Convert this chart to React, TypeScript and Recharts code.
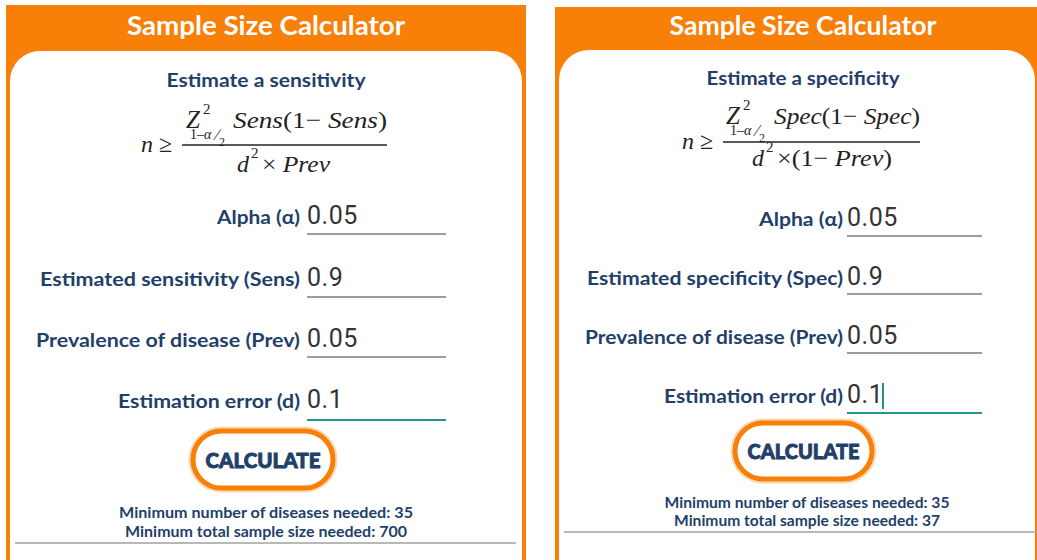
import React from 'react';
import { Surface, Layer, Rectangle } from 'recharts';

// text content of the two calculator panels
const headerTitles = ['Sample Size Calculator', 'Sample Size Calculator'];
const estimateTitles = ['Estimate a sensitivity', 'Estimate a specificity'];
const sensLabels = ['Alpha (\u03b1)', 'Estimated sensitivity (Sens)', 'Prevalence of disease (Prev)', 'Estimation error (d)'];
const specLabels = ['Alpha (\u03b1)', 'Estimated specificity (Spec)', 'Prevalence of disease (Prev)', 'Estimation error (d)'];
const sensValues = ['0.05', '0.9', '0.05', '0.1'];
const specValues = ['0.05', '0.9', '0.05', '0.1'];
const sensResults = ['Minimum number of diseases needed: 35', 'Minimum total sample size needed: 700'];
const specResults = ['Minimum number of diseases needed: 35', 'Minimum total sample size needed: 37'];
const formulaTerms = ['Sens', 'Spec'];
const denomPrefix = ['\u00d7 ', '\u00d7(1\u2212 '];
const denomSuffix = ['', ')'];
const buttonText = 'CALCULATE';

const ORANGE = '#f98008';
const NAVY = '#223f69';
const INK = '#222';
const SANS = 'Lato, "Open Sans", sans-serif';
const SERIF = '"Liberation Serif", "DejaVu Serif", serif';

const panels = [
  {
    ox: 6, ow: 520, top: 5,
    card: { x: 10, y: 51, w: 512 },
    cx: 266, titleY: 35, titleW: 278, subY: 87, subW: 199,
    labelEnd: 300, valueX: 307, lineEnd: 446,
    rowBase: [224, 286, 347, 408], rowLine: [234, 297, 357, 420],
    labelW: [83, 260, 264, 182],
    btn: { x: 193, y: 431, w: 140, h: 57 }, btnTextY: 468, btnTextW: 115,
    resCx: 266, resY: [518, 537], resW: [294, 282],
    sepY: 543, sepX: [15, 516],
    labels: sensLabels, values: sensValues, results: sensResults,
    cursor: false,
    f: { nX: 141, nY: 152, lx: [182, 387], ly: 145, zX: 186, zY: 128, numX: 233, numW: 154, denX: 237, denY: 172, denW: 68 },
  },
  {
    ox: 555, ow: 490, top: 7,
    card: { x: 559, y: 50, w: 476 },
    cx: 803, titleY: 35, titleW: 267, subY: 85, subW: 193,
    labelEnd: 843, valueX: 847, lineEnd: 982,
    rowBase: [226, 285, 344, 403], rowLine: [236, 294, 353, 413],
    labelW: [84, 256, 258, 179],
    btn: { x: 735, y: 423, w: 137, h: 56 }, btnTextY: 459, btnTextW: 112,
    resCx: 807, resY: [508, 526], resW: [285, 266],
    sepY: 532, sepX: [564, 1040],
    labels: specLabels, values: specValues, results: specResults,
    cursor: true,
    f: { nX: 682, nY: 149, lx: [723, 920], ly: 142, zX: 726, zY: 124, numX: 774, numW: 146, denX: 752, denY: 166, denW: 115 },
  },
];

function Formula({ i }: { i: number }) {
  const f = panels[i].f;
  const term = formulaTerms[i];
  return (
    <Layer>
      <text x={f.nX} y={f.nY} fontFamily={SERIF} fontSize={24} fill={INK}>
        <tspan fontStyle="italic">n</tspan> {'\u2265'}
      </text>
      <line x1={f.lx[0]} x2={f.lx[1]} y1={f.ly} y2={f.ly} stroke={INK} strokeWidth={1.3} />
      {/* Z^2 with the 1-alpha/2 subscript */}
      <text x={f.zX} y={f.zY} fontFamily={SERIF} fontSize={25} fontStyle="italic" fill={INK}>Z</text>
      <text x={f.zX + 17} y={f.zY - 14} fontFamily={SERIF} fontSize={15} fill={INK}>2</text>
      <text x={f.zX + 4} y={f.zY + 11} fontFamily={SERIF} fontSize={14} fill={INK}>
        1{'\u2013'}<tspan fontStyle="italic">{'\u03b1'}</tspan>
      </text>
      <text x={f.zX + 30} y={f.zY + 12} fontFamily={SERIF} fontSize={16} fill={INK}>{'\u2044'}</text>
      <text x={f.zX + 33} y={f.zY + 18} fontFamily={SERIF} fontSize={12} fill={INK}>2</text>
      <text x={f.numX} y={f.zY} fontFamily={SERIF} fontSize={24} fill={INK} textLength={f.numW} lengthAdjust="spacingAndGlyphs">
        <tspan fontStyle="italic">{term}</tspan>(1{'\u2212'} <tspan fontStyle="italic">{term}</tspan>)
      </text>
      {/* denominator */}
      <text x={f.denX} y={f.denY} fontFamily={SERIF} fontSize={24} fontStyle="italic" fill={INK}>d</text>
      <text x={f.denX + 14} y={f.denY - 14} fontFamily={SERIF} fontSize={15} fill={INK}>2</text>
      <text x={f.denX + 25} y={f.denY} fontFamily={SERIF} fontSize={24} fill={INK} textLength={f.denW} lengthAdjust="spacingAndGlyphs">
        {denomPrefix[i]}<tspan fontStyle="italic">Prev</tspan>{denomSuffix[i]}
      </text>
    </Layer>
  );
}

function Panel({ i }: { i: number }) {
  const p = panels[i];
  return (
    <Layer>
      <Rectangle x={p.ox} y={p.top} width={p.ow} height={560 - p.top} fill={ORANGE} />
      <Rectangle x={p.card.x} y={p.card.y} width={p.card.w} height={560 - p.card.y} radius={[30, 30, 0, 0]} fill="#fff" />
      <text x={p.cx} y={p.titleY} textAnchor="middle" fontFamily={SANS} fontWeight={700} fontSize={26} fill="#fff"
        textLength={p.titleW} lengthAdjust="spacingAndGlyphs">{headerTitles[i]}</text>
      <text x={p.cx} y={p.subY} textAnchor="middle" fontFamily={SANS} fontWeight={700} fontSize={19} fill={NAVY}
        textLength={p.subW} lengthAdjust="spacingAndGlyphs">{estimateTitles[i]}</text>
      <Formula i={i} />
      {p.labels.map((lab, r) => (
        <Layer key={r}>
          <text x={p.labelEnd} y={p.rowBase[r]} textAnchor="end" fontFamily={SANS} fontWeight={700} fontSize={19} fill={NAVY}
            textLength={p.labelW[r]} lengthAdjust="spacingAndGlyphs">{lab}</text>
          <text x={p.valueX} y={p.rowBase[r]} fontFamily="Roboto, sans-serif" fontSize={25} fill="#333" letterSpacing={0.5}>{p.values[r]}</text>
          <line x1={p.valueX} x2={p.lineEnd} y1={p.rowLine[r]} y2={p.rowLine[r]}
            stroke={r === 3 ? '#23968a' : '#9c9c9c'} strokeWidth={2} />
        </Layer>
      ))}
      {p.cursor && (
        <line x1={p.valueX + 36} x2={p.valueX + 36} y1={p.rowBase[3] - 20} y2={p.rowBase[3] + 6} stroke="#23968a" strokeWidth={2} />
      )}
      <Rectangle x={p.btn.x} y={p.btn.y} width={p.btn.w} height={p.btn.h} radius={p.btn.h / 2}
        fill="#fff" stroke="#fcd9b3" strokeWidth={9} />
      <Rectangle x={p.btn.x} y={p.btn.y} width={p.btn.w} height={p.btn.h} radius={p.btn.h / 2}
        fill="#fff" stroke={ORANGE} strokeWidth={5} />
      <text x={p.btn.x + p.btn.w / 2} y={p.btnTextY} textAnchor="middle" fontFamily={SANS} fontWeight={900} fontSize={21} fill={NAVY}
        stroke={NAVY} strokeWidth={0.9} textLength={p.btnTextW} lengthAdjust="spacingAndGlyphs">{buttonText}</text>
      {p.results.map((t, r) => (
        <text key={r} x={p.resCx} y={p.resY[r]} textAnchor="middle" fontFamily={SANS} fontWeight={700} fontSize={14.5} fill={NAVY}
          textLength={p.resW[r]} lengthAdjust="spacingAndGlyphs">{t}</text>
      ))}
      <line x1={p.sepX[0]} x2={p.sepX[1]} y1={p.sepY} y2={p.sepY} stroke="#a0a0a0" strokeWidth={1.5} />
    </Layer>
  );
}

export default function App() {
  return (
    <div style={{ position: 'absolute', left: 0, top: 0, width: 1037, height: 560, background: '#fff', overflow: 'hidden' }}>
      <Surface width={1037} height={560} viewBox={{ x: 0, y: 0, width: 1037, height: 560 }}>
        <Panel i={0} />
        <Panel i={1} />
      </Surface>
    </div>
  );
}
